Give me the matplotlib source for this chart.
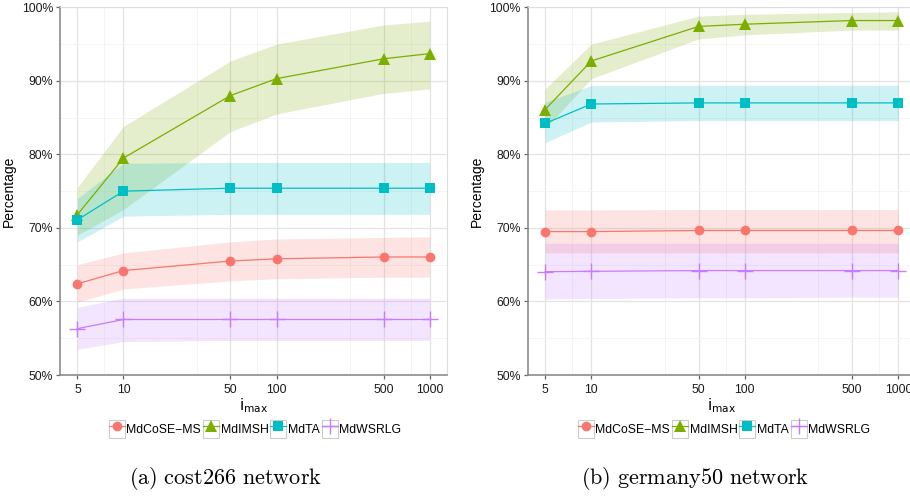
import matplotlib
matplotlib.use("Agg")
import matplotlib.pyplot as plt
from matplotlib.lines import Line2D
from matplotlib.patches import Rectangle
from matplotlib.legend_handler import HandlerLine2D
from matplotlib.ticker import FixedLocator, FuncFormatter, NullFormatter

plt.rcParams['font.family'] = ['Liberation Sans', 'DejaVu Sans']

imax = [5, 10, 50, 100, 500, 1000]
methods = ["MdCoSE\u2212MS", "MdIMSH", "MdTA", "MdWSRLG"]

# cost266 network
cost_mdcose = [62.4, 64.2, 65.5, 65.8, 66.05, 66.05]
cost_mdcose_lo = [59.9, 61.7, 62.8, 63.1, 63.3, 63.3]
cost_mdcose_hi = [65.0, 66.6, 68.1, 68.5, 68.7, 68.8]
cost_mdimsh = [71.8, 79.5, 88.0, 90.3, 93.0, 93.7]
cost_mdimsh_lo = [69.0, 72.5, 83.1, 85.5, 88.3, 88.9]
cost_mdimsh_hi = [75.5, 83.8, 92.7, 95.0, 97.6, 98.1]
cost_mdta = [71.1, 75.0, 75.4, 75.4, 75.4, 75.4]
cost_mdta_lo = [68.1, 71.6, 71.85, 71.85, 71.85, 71.85]
cost_mdta_hi = [74.0, 78.8, 78.9, 78.9, 78.9, 78.9]
cost_mdwsrlg = [56.3, 57.55, 57.55, 57.55, 57.55, 57.55]
cost_mdwsrlg_lo = [53.5, 54.55, 54.7, 54.7, 54.7, 54.7]
cost_mdwsrlg_hi = [59.2, 60.45, 60.45, 60.45, 60.45, 60.45]

# germany50 network
ger_mdcose = [69.5, 69.5, 69.65, 69.65, 69.65, 69.65]
ger_mdcose_lo = [66.6, 66.6, 66.6, 66.6, 66.6, 66.6]
ger_mdcose_hi = [72.45, 72.45, 72.5, 72.5, 72.5, 72.5]
ger_mdimsh = [86.1, 92.7, 97.4, 97.7, 98.2, 98.2]
ger_mdimsh_lo = [83.5, 90.3, 95.7, 96.25, 96.9, 96.9]
ger_mdimsh_hi = [88.9, 95.0, 98.8, 99.05, 99.3, 99.4]
ger_mdta = [84.2, 86.85, 87.0, 87.0, 87.0, 87.0]
ger_mdta_lo = [81.6, 84.4, 84.6, 84.6, 84.6, 84.6]
ger_mdta_hi = [87.1, 89.35, 89.4, 89.4, 89.4, 89.4]
ger_mdwsrlg = [64.05, 64.1, 64.2, 64.2, 64.2, 64.2]
ger_mdwsrlg_lo = [60.35, 60.4, 60.5, 60.5, 60.6, 60.6]
ger_mdwsrlg_hi = [67.9, 67.9, 67.9, 67.9, 67.9, 67.9]

y_ticks = [50, 60, 70, 80, 90, 100]

colors = ['#F8766D', '#7CAE00', '#00BFC4', '#C77CFF']
markers = ['o', '^', 's', '+']
msizes = [7, 9, 7.5, 11]


class KeyHandler(HandlerLine2D):
    # ggplot style legend key: line + marker inside a small grey box
    def create_artists(self, legend, orig_handle, xdescent, ydescent,
                       width, height, fontsize, trans):
        arts = super().create_artists(legend, orig_handle, xdescent, ydescent,
                                      width, height, fontsize, trans)
        box = Rectangle((-xdescent, -ydescent), width, height, fc='white',
                        ec='#cccccc', lw=0.8, transform=trans)
        return [box] + list(arts)


def draw_panel(ax, series):
    for i, (mid, lo, hi) in enumerate(series):
        ax.fill_between(imax, lo, hi, color=colors[i], alpha=0.2, lw=0, zorder=2)
    for i, (mid, lo, hi) in enumerate(series):
        ax.plot(imax, mid, color=colors[i], lw=0.9, marker=markers[i],
                ms=msizes[i], mew=1.0 if markers[i] == '+' else 0, zorder=3)

    ax.set_xscale('log')
    ax.set_xlim(3.85, 1298)
    ax.set_ylim(50, 100)
    ax.xaxis.set_major_locator(FixedLocator(imax))
    ax.xaxis.set_major_formatter(FuncFormatter(lambda v, p: '%d' % v))
    minor_x = [(a + b) / 2 for a, b in zip(imax[:-1], imax[1:])]
    ax.xaxis.set_minor_locator(FixedLocator(minor_x))
    ax.xaxis.set_minor_formatter(NullFormatter())
    ax.yaxis.set_major_locator(FixedLocator(y_ticks))
    ax.yaxis.set_major_formatter(FuncFormatter(lambda v, p: '%d%%' % v))
    ax.yaxis.set_minor_locator(FixedLocator([t + 5 for t in y_ticks[:-1]]))

    ax.grid(True, which='major', color='#e3e3e3', lw=0.9, zorder=0)
    ax.grid(True, which='minor', color='#f3f3f3', lw=0.6, zorder=0)
    ax.set_axisbelow(True)
    for side in ['top', 'right']:
        ax.spines[side].set_color('#dddddd')
        ax.spines[side].set_linewidth(0.8)
    for side in ['left', 'bottom']:
        ax.spines[side].set_color('#8c8c8c')
        ax.spines[side].set_linewidth(1.2)
    ax.tick_params(which='major', length=3, width=0.9, color='#666666',
                   labelsize=8.8, labelcolor='#1a1a1a')
    ax.tick_params(axis='x', which='major', pad=3.5)
    ax.tick_params(axis='y', which='major', pad=2)
    ax.tick_params(which='minor', length=0)
    ax.set_ylabel('Percentage', fontsize=10, labelpad=4)
    ax.set_xlabel(r'$\mathrm{i}_{\mathrm{max}}$', fontsize=11, labelpad=0,
                  math_fontfamily='dejavusans')

    handles = [Line2D([], [], color=colors[i], marker=markers[i], ms=msizes[i],
                      mew=1.0 if markers[i] == '+' else 0, lw=0.9)
               for i in range(len(methods))]
    return handles


fig = plt.figure(figsize=(9.1, 4.96), dpi=100)
ax1 = fig.add_axes([60 / 910, 121 / 496, 387 / 910, 367.7 / 496])
ax2 = fig.add_axes([527.7 / 910, 121 / 496, 388 / 910, 367.7 / 496])

cost_series = [(cost_mdcose, cost_mdcose_lo, cost_mdcose_hi),
               (cost_mdimsh, cost_mdimsh_lo, cost_mdimsh_hi),
               (cost_mdta, cost_mdta_lo, cost_mdta_hi),
               (cost_mdwsrlg, cost_mdwsrlg_lo, cost_mdwsrlg_hi)]
ger_series = [(ger_mdcose, ger_mdcose_lo, ger_mdcose_hi),
              (ger_mdimsh, ger_mdimsh_lo, ger_mdimsh_hi),
              (ger_mdta, ger_mdta_lo, ger_mdta_hi),
              (ger_mdwsrlg, ger_mdwsrlg_lo, ger_mdwsrlg_hi)]

h1 = draw_panel(ax1, cost_series)
h2 = draw_panel(ax2, ger_series)

for handles, cx in [(h1, 255 / 910), (h2, 724 / 910)]:
    fig.legend(handles, methods, loc='center', bbox_to_anchor=(cx, 67 / 496),
               ncol=4, frameon=False, fontsize=8.8, handlelength=1.3,
               handleheight=2.0, handletextpad=0.15, columnspacing=0.15,
               numpoints=1, handler_map={Line2D: KeyHandler()})

fig.text(226 / 910, 18 / 496, r'$\mathrm{(a)\ cost266\ network}$', ha='center',
         va='center', fontsize=16, math_fontfamily='cm')
fig.text(695 / 910, 18 / 496, r'$\mathrm{(b)\ germany50\ network}$', ha='center',
         va='center', fontsize=16, math_fontfamily='cm')

fig.savefig('out.png', dpi=100)
